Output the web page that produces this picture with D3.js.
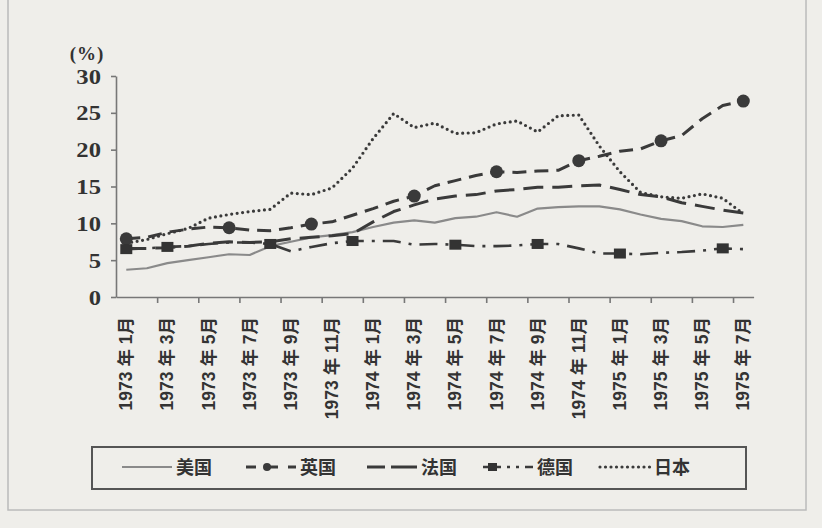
<!DOCTYPE html>
<html>
<head>
<meta charset="utf-8">
<script src="https://cdn.jsdelivr.net/npm/d3@7"></script>
<style>
  body { margin: 0; background: #efeeea; }
  svg { display: block; }
  .axis path, .axis line { stroke: #777; stroke-width: 1.6; }
  .axis text { display: none; }
</style>
</head>
<body>
<div id="chart"></div>
<script>
// months, Jan 1973 .. Jul 1975
const months = [];
[1973, 1974, 1975].forEach(function(y) {
  for (let m = 1; m <= 12; m++) {
    if (y === 1975 && m > 7) break;
    months.push(y + " 年 " + m + "月");
  }
});

const yTicks = [0, 5, 10, 15, 20, 25, 30];

// inflation rates (%)
const usa = [3.7, 3.9, 4.6, 5.0, 5.4, 5.8, 5.7, 6.9, 7.5, 8.1, 8.4, 8.8, 9.5, 10.1, 10.4, 10.1,
  10.7, 10.9, 11.5, 10.9, 12.0, 12.2, 12.3, 12.3, 11.9, 11.2, 10.6, 10.3, 9.6, 9.5, 9.8];
const uk = [7.9, 8.1, 8.8, 9.2, 9.5, 9.4, 9.1, 9.0, 9.4, 9.9, 10.2, 11.1, 12.0, 13.0, 13.7, 15.1,
  15.8, 16.5, 17.0, 16.9, 17.1, 17.2, 18.5, 19.1, 19.8, 20.1, 21.2, 21.9, 24.2, 26.0, 26.6];
const france = [6.6, 6.6, 6.7, 6.9, 7.3, 7.5, 7.4, 7.5, 7.9, 8.1, 8.3, 8.6, 10.2, 11.6, 12.5, 13.3,
  13.7, 13.9, 14.4, 14.6, 14.9, 14.9, 15.1, 15.2, 14.6, 13.9, 13.6, 12.8, 12.3, 11.8, 11.4];
const germany = [6.5, 6.6, 6.8, 6.9, 7.2, 7.4, 7.4, 7.2, 6.2, 6.8, 7.3, 7.6, 7.6, 7.6, 7.1, 7.2,
  7.1, 6.9, 6.9, 7.0, 7.2, 7.2, 6.6, 5.9, 5.9, 5.8, 6.0, 6.1, 6.3, 6.6, 6.5];
const japan = [7.3, 7.8, 8.6, 9.3, 10.7, 11.2, 11.6, 11.9, 14.1, 13.9, 14.8, 17.5, 21.5, 24.9, 23.0, 23.6,
  22.2, 22.3, 23.5, 23.9, 22.4, 24.6, 24.7, 20.5, 17.0, 14.2, 13.6, 13.4, 14.0, 13.4, 11.3];

// months that carry a marker
const ukMarks = [0, 5, 9, 14, 18, 22, 26, 30];
const germanyMarks = [0, 2, 7, 11, 16, 20, 24, 29];

const series = [
  { name: "美国", values: usa, color: "#8a8a8a", width: 2.2, dash: null },
  { name: "英国", values: uk, color: "#3a3a3a", width: 3, dash: "14,8", marks: ukMarks, marker: "circle" },
  { name: "法国", values: france, color: "#3a3a3a", width: 3, dash: "20,9" },
  { name: "德国", values: germany, color: "#3a3a3a", width: 2.6, dash: "18,8,3,8", marks: germanyMarks, marker: "square" },
  { name: "日本", values: japan, color: "#3a3a3a", width: 3.2, dash: "0,5.5", cap: "round" }
];

const W = 822, H = 528;
const svg = d3.select("#chart").append("svg")
  .attr("width", W).attr("height", H);

svg.append("rect").attr("width", W).attr("height", H).attr("fill", "#efeeea");
// page frame
svg.append("rect")
  .attr("x", 8).attr("y", -4).attr("width", 798).attr("height", 514)
  .attr("fill", "none").attr("stroke", "#bbb").attr("stroke-width", 1.5);

const x = d3.scaleLinear().domain([0, months.length]).range([116, 753.6]);
const y = d3.scaleLinear().domain([0, 30]).range([297, 76]);

// axes
svg.append("g").attr("class", "axis")
  .attr("transform", "translate(0," + y(0) + ")")
  .call(d3.axisBottom(x).tickValues(d3.range(2, months.length, 2)).tickSize(6).tickSizeOuter(0));
svg.append("g").attr("class", "axis")
  .attr("transform", "translate(" + x(0) + ",0)")
  .call(d3.axisLeft(y).tickValues(yTicks).tickSize(5).tickSizeOuter(0));

// y tick labels
svg.selectAll(".ylab").data(yTicks).enter().append("text")
  .attr("class", "ylab")
  .attr("transform", function(d) { return "translate(101," + (y(d) + 7.5) + ") scale(1.12,1)"; })
  .attr("text-anchor", "end")
  .attr("font-family", "Liberation Serif, serif")
  .attr("font-weight", "bold")
  .attr("font-size", 22)
  .attr("fill", "#333")
  .text(function(d) { return d; });

svg.append("text")
  .attr("x", 87).attr("y", 60)
  .attr("text-anchor", "middle")
  .attr("font-family", "Liberation Serif, serif")
  .attr("font-weight", "bold")
  .attr("font-size", 19)
  .attr("letter-spacing", 1)
  .attr("fill", "#333")
  .text("(%)");

// x labels, every second month
svg.selectAll(".xlab").data(months.filter(function(d, i) { return i % 2 === 0; })).enter()
  .append("text")
  .attr("class", "xlab")
  .attr("transform", function(d, k) {
    return "translate(" + (x(k * 2 + 0.5) + 6) + "," + 317 + ") rotate(-90)";
  })
  .attr("text-anchor", "end")
  .attr("font-family", "Liberation Sans, Noto Sans CJK SC, sans-serif")
  .attr("font-weight", "bold")
  .attr("font-size", 17.5)
  .attr("fill", "#333")
  .text(function(d) { return d; });

// lines
const line = d3.line()
  .x(function(d, i) { return x(i + 0.5); })
  .y(function(d) { return y(d); });

series.forEach(function(s) {
  svg.append("path")
    .datum(s.values)
    .attr("d", line)
    .attr("fill", "none")
    .attr("stroke", s.color)
    .attr("stroke-width", s.width)
    .attr("stroke-dasharray", s.dash)
    .attr("stroke-linecap", s.cap || "butt")
    .attr("stroke-linejoin", "round");
});

// markers
series.filter(function(s) { return s.marks; }).forEach(function(s) {
  const g = svg.append("g");
  if (s.marker === "circle") {
    g.selectAll("circle").data(s.marks).enter().append("circle")
      .attr("cx", function(i) { return x(i + 0.5); })
      .attr("cy", function(i) { return y(s.values[i]); })
      .attr("r", 6.5)
      .attr("fill", "#3a3a3a");
  } else {
    g.selectAll("rect").data(s.marks).enter().append("rect")
      .attr("x", function(i) { return x(i + 0.5) - 6; })
      .attr("y", function(i) { return y(s.values[i]) - 5; })
      .attr("width", 12).attr("height", 10)
      .attr("fill", "#333");
  }
});

// legend
const legend = svg.append("g");
legend.append("rect")
  .attr("x", 92).attr("y", 447).attr("width", 654).attr("height", 42)
  .attr("fill", "none").attr("stroke", "#555").attr("stroke-width", 2);

const legendX = [122, 246, 367, 483, 600];
series.forEach(function(s, k) {
  const lx = legendX[k], ly = 467;
  legend.append("line")
    .attr("x1", lx).attr("x2", lx + 50).attr("y1", ly).attr("y2", ly)
    .attr("stroke", s.color)
    .attr("stroke-width", s.width)
    .attr("stroke-dasharray", k === 1 ? "10,12,10" : k === 2 ? "18,6,26" : k === 3 ? "18,6,3,6,3,6,10" : s.dash)
    .attr("stroke-linecap", s.cap || "butt");
  if (s.marker === "circle") {
    legend.append("circle").attr("cx", lx + 21).attr("cy", ly).attr("r", 4).attr("fill", "#3a3a3a");
  }
  if (s.marker === "square") {
    legend.append("rect").attr("x", lx + 5).attr("y", ly - 4).attr("width", 9).attr("height", 8).attr("fill", "#333");
  }
  legend.append("text")
    .attr("x", lx + 54).attr("y", ly + 7)
    .attr("font-family", "Noto Sans CJK SC, sans-serif")
    .attr("font-weight", "bold")
    .attr("font-size", 18)
    .attr("fill", "#333")
    .text(s.name);
});
</script>
</body>
</html>
